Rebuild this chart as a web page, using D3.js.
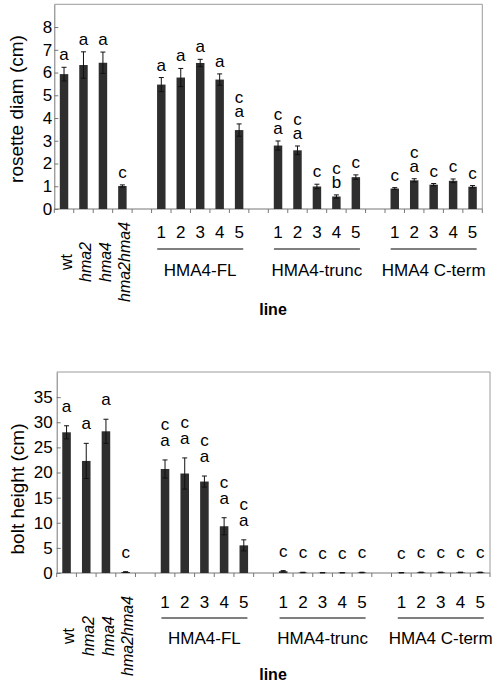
<!DOCTYPE html>
<html>
<head>
<meta charset="utf-8">
<script src="https://cdn.jsdelivr.net/npm/d3@7"></script>
<style>
  body { margin: 0; background: #fff; }
  svg { display: block; font-family: "Liberation Sans", Arial, sans-serif; }
</style>
</head>
<body>
<svg id="chart" width="498" height="686"></svg>
<script>
// ---------- DATA ----------
const categories = ["wt","hma2","hma4","hma2hma4","gap1",
  "FL-1","FL-2","FL-3","FL-4","FL-5","gap2",
  "trunc-1","trunc-2","trunc-3","trunc-4","trunc-5","gap3",
  "Cterm-1","Cterm-2","Cterm-3","Cterm-4","Cterm-5"];

const mutantLabels = ["wt","hma2","hma4","hma2hma4"];
const lineNumbers = ["1","2","3","4","5"];
const groupNames = ["HMA4-FL","HMA4-trunc","HMA4 C-term"];
const groupMembers = [
  ["FL-1","FL-2","FL-3","FL-4","FL-5"],
  ["trunc-1","trunc-2","trunc-3","trunc-4","trunc-5"],
  ["Cterm-1","Cterm-2","Cterm-3","Cterm-4","Cterm-5"]
];

const rosetteMean = [5.93, 6.33, 6.43, 1.01, null,
  5.47, 5.78, 6.42, 5.69, 3.47, null,
  2.79, 2.58, 0.99, 0.55, 1.40, null,
  0.90, 1.26, 1.07, 1.24, 0.98];
const rosetteErr = [0.30, 0.58, 0.47, 0.05, null,
  0.31, 0.40, 0.16, 0.25, 0.27, null,
  0.20, 0.19, 0.10, 0.07, 0.10, null,
  0.04, 0.07, 0.05, 0.08, 0.05];
const rosetteLetters = [["a"],["a"],["a"],["c"],null,
  ["a"],["a"],["a"],["a"],["c","a"],null,
  ["c","a"],["c","a"],["c"],["c","b"],["c"],null,
  ["c"],["c","a"],["c"],["c"],["c"]];
const rosetteTicks = [0,1,2,3,4,5,6,7,8];

const boltMean = [28.0, 22.3, 28.2, 0.2, null,
  20.7, 19.8, 18.2, 9.3, 5.5, null,
  0.35, 0.1, 0.05, 0.05, 0.1, null,
  0.05, 0.12, 0.12, 0.12, 0.12];
const boltErr = [1.3, 3.5, 2.4, 0.05, null,
  1.8, 3.1, 1.1, 1.7, 1.1, null,
  0.12, 0.05, 0.02, 0.02, 0.05, null,
  0.02, 0.05, 0.05, 0.05, 0.05];
const boltLetters = [["a"],["a"],["a"],["c"],null,
  ["c","a"],["c","a"],["c","a"],["c","a"],["c","a"],null,
  ["c"],["c"],["c"],["c"],["c"],null,
  ["c"],["c"],["c"],["c"],["c"]];
const boltTicks = [0,5,10,15,20,25,30,35];

// ---------- DRAW ----------
const svg = d3.select("#chart");

function drawChart(cfg) {
  const g = svg.append("g");
  const x = d3.scaleBand().domain(categories)
    .range([cfg.left, cfg.right])
    .paddingInner(0.565).paddingOuter(0.2825);
  const step = (cfg.right - cfg.left) / categories.length;
  const y = d3.scaleLinear().domain([0, cfg.ymax]).range([cfg.bottom, cfg.top]);
  const cx = c => x(c) + x.bandwidth() / 2;

  // frame (top & right)
  g.append("path")
    .attr("d", `M${cfg.left},${cfg.top}H${cfg.right}V${cfg.bottom}`)
    .attr("fill", "none").attr("stroke", "#9a9a9a").attr("stroke-width", 1);

  // y axis
  const yAxis = d3.axisLeft(y).tickValues(cfg.ticks).tickSize(-4).tickPadding(cfg.tickPad).tickSizeOuter(0);
  const ya = g.append("g").attr("transform", `translate(${cfg.left},0)`).call(yAxis);
  ya.select(".domain").attr("stroke", "#777");
  ya.selectAll(".tick line").attr("stroke", "#777");
  ya.selectAll(".tick text").attr("font-size", 17).attr("fill", "#000")
    .attr("font-family", "Liberation Sans, Arial, sans-serif");

  // x axis line + ticks at slot boundaries
  g.append("line").attr("x1", cfg.left).attr("x2", cfg.right)
    .attr("y1", cfg.bottom).attr("y2", cfg.bottom).attr("stroke", "#777");
  g.selectAll(".xt").data(d3.range(categories.length + 1)).enter().append("line")
    .attr("x1", i => cfg.left + i * step).attr("x2", i => cfg.left + i * step)
    .attr("y1", cfg.bottom).attr("y2", cfg.bottom + 4).attr("stroke", "#777");

  const rows = categories.map((c, i) => ({c, v: cfg.mean[i], e: cfg.err[i], L: cfg.letters[i]}))
    .filter(d => d.v !== null);

  // bars
  g.selectAll(".bar").data(rows).enter().append("rect")
    .attr("x", d => x(d.c)).attr("width", x.bandwidth())
    .attr("y", d => y(d.v)).attr("height", d => cfg.bottom - y(d.v))
    .attr("fill", "#2e2e2e");

  // error bars
  const eb = g.selectAll(".eb").data(rows).enter().append("g").attr("stroke", "#111").attr("stroke-width", 1);
  eb.append("line").attr("x1", d => cx(d.c)).attr("x2", d => cx(d.c))
    .attr("y1", d => y(d.v - d.e)).attr("y2", d => y(d.v + d.e));
  eb.append("line").attr("x1", d => cx(d.c) - 2.5).attr("x2", d => cx(d.c) + 2.5)
    .attr("y1", d => y(d.v + d.e)).attr("y2", d => y(d.v + d.e));
  eb.append("line").attr("x1", d => cx(d.c) - 2.5).attr("x2", d => cx(d.c) + 2.5)
    .attr("y1", d => y(d.v - d.e)).attr("y2", d => y(d.v - d.e));

  // significance letters (stacked letters as one text block)
  rows.forEach(d => {
    const n = d.L.length;
    const t = g.append("text").attr("text-anchor", "middle").attr("font-size", 17)
      .attr("y", y(d.v + d.e) - cfg.letterGap - (n - 1) * cfg.letterStep);
    d.L.forEach((letter, k) => {
      t.append("tspan").attr("x", cx(d.c)).attr("dy", k === 0 ? 0 : cfg.letterStep).text(letter);
    });
  });

  // rotated mutant labels
  mutantLabels.forEach(name => {
    const px = cx(name) + 2;
    g.append("text")
      .attr("transform", `translate(${px},${cfg.bottom + cfg.rotCenter}) rotate(-90)`)
      .attr("text-anchor", "middle").attr("dy", "0.35em")
      .attr("font-size", 16).attr("font-style", name === "wt" ? "normal" : "italic")
      .text(name);
  });

  // line numbers, group lines and group names
  groupMembers.forEach((members, gi) => {
    members.forEach((m, k) => {
      g.append("text").attr("x", cx(m)).attr("y", cfg.bottom + cfg.numOff)
        .attr("text-anchor", "middle").attr("font-size", 17).text(lineNumbers[k]);
    });
    const mid = (cx(members[0]) + cx(members[members.length - 1])) / 2;
    g.append("line").attr("x1", mid - 43).attr("x2", mid + 43)
      .attr("y1", cfg.bottom + cfg.lineOff).attr("y2", cfg.bottom + cfg.lineOff)
      .attr("stroke", "#000").attr("stroke-width", 1.2);
    g.append("text").attr("x", mid).attr("y", cfg.bottom + cfg.groupOff)
      .attr("text-anchor", "middle").attr("font-size", 17).text(groupNames[gi]);
  });

  // axis titles
  g.append("text").attr("x", 273).attr("y", cfg.bottom + cfg.xTitleOff)
    .attr("text-anchor", "middle").attr("font-size", 16).attr("font-weight", "bold").text("line");
  g.append("text")
    .attr("transform", `translate(${cfg.yTitleX},${cfg.yTitleY}) rotate(-90)`)
    .attr("text-anchor", "middle").attr("dy", "0.35em")
    .attr("font-size", 19).text(cfg.yTitle);
}

drawChart({
  left: 54.3, right: 482.3, top: 4.3, bottom: 209, ymax: 9,
  ticks: rosetteTicks, tickPad: 2,
  mean: rosetteMean, err: rosetteErr, letters: rosetteLetters,
  letterGap: 7, letterStep: 14,
  rotCenter: 53, numOff: 29, lineOff: 40, groupOff: 67, xTitleOff: 106,
  yTitle: "rosette diam (cm)", yTitleX: 16, yTitleY: 109
});

drawChart({
  left: 56.7, right: 490, top: 372, bottom: 573, ymax: 40,
  ticks: boltTicks, tickPad: 4,
  mean: boltMean, err: boltErr, letters: boltLetters,
  letterGap: 14, letterStep: 16,
  rotCenter: 63, numOff: 35, lineOff: 45, groupOff: 71, xTitleOff: 107,
  yTitle: "bolt height (cm)", yTitleX: 17, yTitleY: 489
});
</script>
</body>
</html>
